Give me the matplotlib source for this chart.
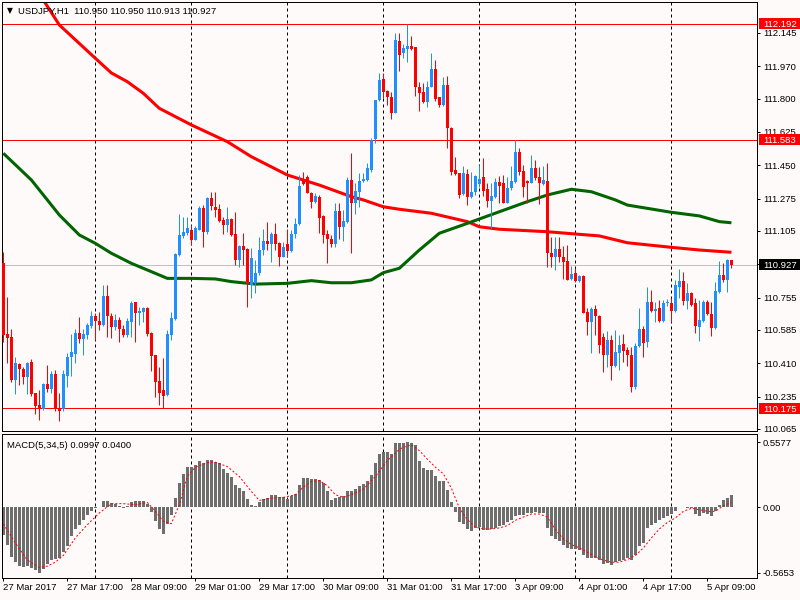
import matplotlib
matplotlib.use("Agg")
import matplotlib.pyplot as plt
import numpy as np
from matplotlib.patches import Rectangle
from matplotlib.transforms import blended_transform_factory, Bbox, TransformedBbox

plt.rcParams['font.family'] = ['Liberation Sans', 'DejaVu Sans']

# ---------------- data ----------------
chart_title = "USDJPY,H1  110.950 110.950 110.913 110.927"
macd_title = "MACD(5,34,5) 0.0997 0.0400"

opens = [110.937, 110.564, 110.548, 110.322, 110.406, 110.380, 110.338, 110.417, 110.254, 110.191,
         110.170, 110.301, 110.275, 110.354, 110.175, 110.170, 110.343, 110.443, 110.459, 110.569,
         110.538, 110.559, 110.606, 110.658, 110.632, 110.611, 110.763, 110.658, 110.601, 110.637,
         110.590, 110.559, 110.627, 110.732, 110.674, 110.679, 110.700, 110.569, 110.454, 110.317,
         110.270, 110.243, 110.559, 110.643, 110.979, 111.079, 111.094, 111.110, 111.058, 111.110,
         111.226, 111.100, 111.278, 111.231, 111.220, 111.163, 111.136, 111.168, 111.089, 110.953,
         111.026, 111.010, 110.821, 110.832, 110.884, 111.005, 111.052, 111.037, 111.089, 111.042,
         110.968, 111.037, 111.000, 111.089, 111.142, 111.378, 111.388, 111.304, 111.257, 111.283,
         111.184, 111.089, 111.063, 111.037, 111.210, 111.126, 111.152, 111.373, 111.252, 111.310,
         111.367, 111.373, 111.425, 111.588, 111.793, 111.903, 111.840, 111.809, 111.725, 112.103,
         112.040, 112.061, 112.076, 112.071, 111.861, 111.835, 111.782, 111.861, 111.956, 111.809,
         111.767, 111.872, 111.646, 111.425, 111.409, 111.299, 111.404, 111.283, 111.310, 111.352,
         111.388, 111.325, 111.262, 111.283, 111.362, 111.357, 111.252, 111.331, 111.362, 111.520,
         111.420, 111.367, 111.357, 111.436, 111.388, 111.352, 111.367, 110.989, 110.968, 111.010,
         110.968, 110.947, 110.853, 110.884, 110.842, 110.868, 110.679, 110.627, 110.695, 110.658,
         110.548, 110.454, 110.532, 110.396, 110.464, 110.511, 110.480, 110.454, 110.285, 110.501,
         110.590, 110.522, 110.732, 110.685, 110.700, 110.632, 110.725, 110.727, 110.685, 110.811,
         110.842, 110.737, 110.779, 110.727, 110.601, 110.632, 110.732, 110.669, 110.595, 110.784,
         110.874, 110.847, 110.950]
highs = [110.995, 110.758, 110.590, 110.443, 110.412, 110.391, 110.417, 110.433, 110.254, 110.270,
         110.307, 110.401, 110.370, 110.375, 110.254, 110.375, 110.464, 110.564, 110.590, 110.653,
         110.590, 110.622, 110.685, 110.674, 110.679, 110.821, 110.821, 110.674, 110.669, 110.653,
         110.611, 110.648, 110.737, 110.732, 110.706, 110.706, 110.706, 110.574, 110.454, 110.391,
         110.438, 110.585, 110.679, 110.989, 111.194, 111.178, 111.178, 111.136, 111.131, 111.236,
         111.241, 111.283, 111.310, 111.310, 111.247, 111.178, 111.231, 111.173, 111.205, 111.031,
         111.094, 111.016, 111.016, 110.953, 111.073, 111.115, 111.152, 111.100, 111.147, 111.047,
         111.047, 111.115, 111.110, 111.173, 111.399, 111.415, 111.399, 111.310, 111.304, 111.294,
         111.189, 111.110, 111.084, 111.252, 111.252, 111.215, 111.388, 111.514, 111.357, 111.409,
         111.409, 111.462, 111.593, 111.793, 111.935, 111.935, 111.845, 111.835, 112.145, 112.145,
         112.087, 112.192, 112.129, 112.071, 111.887, 111.882, 111.893, 112.040, 112.003, 111.809,
         111.914, 111.919, 111.651, 111.493, 111.409, 111.446, 111.430, 111.415, 111.399, 111.451,
         111.488, 111.357, 111.357, 111.383, 111.394, 111.399, 111.388, 111.446, 111.583, 111.541,
         111.451, 111.373, 111.504, 111.478, 111.441, 111.446, 111.462, 111.073, 111.073, 111.073,
         111.026, 111.031, 110.921, 110.910, 110.874, 110.874, 110.700, 110.706, 110.716, 110.664,
         110.569, 110.580, 110.559, 110.585, 110.559, 110.564, 110.496, 110.496, 110.517, 110.700,
         110.606, 110.811, 110.795, 110.732, 110.742, 110.742, 110.748, 110.753, 110.847, 110.905,
         110.889, 110.832, 110.784, 110.753, 110.742, 110.742, 110.742, 110.732, 110.837, 110.947,
         110.937, 110.958, 110.950]
lows = [110.522, 110.412, 110.312, 110.249, 110.296, 110.301, 110.249, 110.238, 110.144, 110.112,
        110.165, 110.259, 110.254, 110.159, 110.107, 110.159, 110.285, 110.343, 110.412, 110.517,
        110.454, 110.538, 110.595, 110.532, 110.585, 110.606, 110.548, 110.543, 110.585, 110.522,
        110.548, 110.548, 110.548, 110.522, 110.611, 110.627, 110.553, 110.370, 110.233, 110.191,
        110.175, 110.238, 110.532, 110.637, 110.973, 111.068, 111.084, 111.031, 111.058, 111.110,
        111.021, 111.089, 111.215, 111.178, 111.152, 111.089, 111.100, 111.079, 110.926, 110.916,
        110.926, 110.706, 110.753, 110.779, 110.874, 110.979, 111.005, 110.942, 111.005, 110.921,
        110.968, 110.968, 110.995, 111.068, 111.136, 111.346, 111.304, 111.226, 111.252, 111.094,
        111.042, 110.937, 111.021, 111.021, 111.063, 111.052, 111.147, 110.989, 111.194, 111.231,
        111.362, 111.367, 111.415, 111.567, 111.788, 111.803, 111.767, 111.693, 111.725, 111.945,
        112.013, 111.992, 112.055, 111.814, 111.735, 111.777, 111.756, 111.861, 111.788, 111.756,
        111.761, 111.541, 111.399, 111.399, 111.278, 111.294, 111.241, 111.278, 111.294, 111.336,
        111.289, 111.231, 111.121, 111.278, 111.252, 111.252, 111.252, 111.320, 111.357, 111.399,
        111.283, 111.252, 111.357, 111.373, 111.247, 111.346, 110.916, 110.916, 110.900, 110.942,
        110.853, 110.847, 110.847, 110.837, 110.837, 110.674, 110.559, 110.464, 110.559, 110.464,
        110.364, 110.391, 110.322, 110.391, 110.375, 110.417, 110.396, 110.259, 110.275, 110.496,
        110.443, 110.496, 110.679, 110.627, 110.627, 110.627, 110.711, 110.627, 110.679, 110.753,
        110.716, 110.695, 110.711, 110.569, 110.527, 110.627, 110.664, 110.553, 110.590, 110.779,
        110.837, 110.784, 110.913]
closes = [110.559, 110.543, 110.322, 110.412, 110.380, 110.338, 110.412, 110.249, 110.186, 110.175,
          110.301, 110.275, 110.354, 110.170, 110.159, 110.354, 110.443, 110.469, 110.569, 110.538,
          110.564, 110.611, 110.658, 110.632, 110.611, 110.763, 110.658, 110.601, 110.637, 110.590,
          110.559, 110.632, 110.727, 110.674, 110.685, 110.700, 110.564, 110.448, 110.312, 110.254,
          110.238, 110.564, 110.648, 110.984, 111.084, 111.100, 111.121, 111.058, 111.121, 111.226,
          111.100, 111.278, 111.236, 111.215, 111.157, 111.136, 111.168, 111.084, 110.953, 111.026,
          111.005, 110.826, 110.963, 110.884, 111.005, 111.052, 111.037, 111.089, 111.037, 110.968,
          111.021, 111.000, 111.089, 111.142, 111.341, 111.352, 111.304, 111.257, 111.289, 111.173,
          111.084, 111.063, 111.037, 111.210, 111.126, 111.157, 111.373, 111.252, 111.315, 111.367,
          111.378, 111.436, 111.583, 111.793, 111.898, 111.835, 111.809, 111.725, 112.108, 112.029,
          112.066, 112.076, 112.061, 111.861, 111.830, 111.782, 111.861, 111.956, 111.798, 111.767,
          111.872, 111.646, 111.415, 111.404, 111.294, 111.409, 111.283, 111.310, 111.394, 111.378,
          111.315, 111.262, 111.289, 111.362, 111.341, 111.252, 111.331, 111.367, 111.520, 111.415,
          111.336, 111.357, 111.436, 111.383, 111.357, 111.373, 110.989, 110.968, 111.010, 110.968,
          110.942, 110.847, 110.879, 110.842, 110.868, 110.674, 110.627, 110.695, 110.658, 110.506,
          110.454, 110.532, 110.396, 110.469, 110.506, 110.475, 110.454, 110.285, 110.501, 110.590,
          110.517, 110.732, 110.685, 110.695, 110.632, 110.727, 110.728, 110.685, 110.821, 110.842,
          110.737, 110.779, 110.716, 110.606, 110.637, 110.732, 110.669, 110.595, 110.790, 110.874,
          110.847, 110.953, 110.927]

ma_red_bars = [0, 10, 14, 23, 27, 31, 35, 39, 47, 56, 62, 71, 79, 87, 90, 95, 99, 107, 116, 119,
               124, 136, 143, 149, 156, 167, 174, 182]
ma_red_vals = [112.465, 112.318, 112.187, 112.012, 111.935, 111.889, 111.828, 111.749, 111.662,
               111.574, 111.495, 111.399, 111.346, 111.285, 111.268, 111.232, 111.219, 111.198,
               111.154, 111.127, 111.114, 111.101, 111.089, 111.079, 111.043, 111.019, 111.005,
               110.993]
ma_green_bars = [0, 7, 11, 14, 19, 23, 27, 32, 36, 41, 47, 53, 57, 63, 71, 77, 82, 87, 92, 95, 99,
                 104, 109, 116, 124, 131, 136, 142, 147, 153, 156, 167, 174, 179, 182]
ma_green_vals = [111.513, 111.373, 111.268, 111.189, 111.084, 111.040, 110.988, 110.935, 110.900,
                 110.856, 110.856, 110.853, 110.839, 110.826, 110.830, 110.844, 110.833, 110.833,
                 110.848, 110.886, 110.909, 111.005, 111.093, 111.145, 111.206, 111.259, 111.294,
                 111.324, 111.311, 111.268, 111.241, 111.203, 111.184, 111.154, 111.148]

macd_hist = [-0.237, -0.323, -0.432, -0.475, -0.509, -0.515, -0.509, -0.523, -0.543, -0.5653,
             -0.532, -0.494, -0.452, -0.446, -0.437, -0.386, -0.332, -0.252, -0.186, -0.152,
             -0.109, -0.066, -0.031, -0.011, -0.003, 0.054, 0.054, 0.034, 0.029, 0.011,
             -0.011, 0.011, 0.040, 0.049, 0.054, 0.054, 0.029, -0.046, -0.123, -0.186,
             -0.229, -0.143, -0.071, 0.080, 0.206, 0.286, 0.343, 0.349, 0.363, 0.397,
             0.377, 0.406, 0.406, 0.389, 0.377, 0.326, 0.297, 0.263, 0.192, 0.163,
             0.134, 0.069, 0.020, 0.011, 0.040, 0.071, 0.077, 0.106, 0.106, 0.086,
             0.086, 0.071, 0.091, 0.114, 0.192, 0.249, 0.249, 0.240, 0.240, 0.229,
             0.206, 0.134, 0.057, 0.077, 0.083, 0.091, 0.140, 0.140, 0.157, 0.177,
             0.200, 0.226, 0.277, 0.377, 0.457, 0.477, 0.472, 0.457, 0.549, 0.549,
             0.555, 0.5577, 0.555, 0.535, 0.397, 0.334, 0.320, 0.320, 0.269, 0.226,
             0.226, 0.149, 0.040, -0.046, -0.132, -0.143, -0.189, -0.209, -0.180, -0.174,
             -0.200, -0.200, -0.189, -0.180, -0.166, -0.152, -0.132, -0.109, -0.074, -0.066,
             -0.066, -0.051, -0.051, -0.046, -0.051, -0.051, -0.180, -0.252, -0.274, -0.294,
             -0.323, -0.352, -0.357, -0.360, -0.372, -0.409, -0.437, -0.437, -0.437, -0.457,
             -0.494, -0.486, -0.503, -0.475, -0.466, -0.452, -0.437, -0.457, -0.409, -0.337,
             -0.309, -0.180, -0.152, -0.137, -0.109, -0.094, -0.074, -0.057, -0.031, -0.002,
             0.002, -0.006, -0.009, -0.057, -0.074, -0.051, -0.057, -0.080, -0.037, 0.020,
             0.057, 0.075, 0.0997]
signal_bars = [0, 3, 6, 9, 11, 13, 15, 18, 21, 24, 27, 30, 33, 36, 38, 40, 42, 44, 46, 48, 51, 53,
               56, 59, 62, 64, 67, 70, 73, 75, 77, 79, 81, 83, 85, 88, 90, 93, 96, 99, 100, 102,
               104, 106, 108, 110, 112, 114, 116, 118, 120, 122, 124, 126, 128, 130, 132, 134,
               136, 138, 140, 142, 144, 146, 148, 150, 152, 154, 156, 158, 160, 162, 164, 166,
               168, 170, 172, 174, 176, 178, 180, 182]
signal_vals = [-0.146, -0.309, -0.457, -0.520, -0.509, -0.475, -0.417, -0.266, -0.152, -0.051,
               0.029, 0.029, 0.020, 0.040, -0.037, -0.123, -0.143, 0.020, 0.263, 0.343, 0.383,
               0.386, 0.349, 0.263, 0.134, 0.057, 0.077, 0.083, 0.106, 0.172, 0.220, 0.229,
               0.183, 0.106, 0.083, 0.120, 0.154, 0.263, 0.400, 0.497, 0.515, 0.535, 0.486,
               0.412, 0.343, 0.286, 0.163, -0.009, -0.109, -0.172, -0.189, -0.189, -0.180,
               -0.160, -0.114, -0.086, -0.060, -0.060, -0.086, -0.194, -0.274, -0.323, -0.352,
               -0.389, -0.429, -0.457, -0.475, -0.475, -0.452, -0.417, -0.352, -0.266, -0.189,
               -0.132, -0.094, -0.037, -0.011, -0.023, -0.037, -0.037, 0.011, 0.040]

date_labels = ["27 Mar 2017", "27 Mar 17:00", "28 Mar 09:00", "29 Mar 01:00", "29 Mar 17:00",
               "30 Mar 09:00", "31 Mar 01:00", "31 Mar 17:00", "3 Apr 09:00", "4 Apr 01:00",
               "4 Apr 17:00", "5 Apr 09:00"]
date_label_bars = [0, 16, 32, 48, 64, 80, 96, 112, 128, 144, 160, 176]
day_sep_bars = [23, 47, 71, 95, 119, 143, 167]
level_lines = [112.192, 111.583, 110.175]
current_price = 110.927
price_ticks = [112.145, 111.970, 111.800, 111.625, 111.450, 111.275, 111.105, 110.930,
               110.755, 110.585, 110.410, 110.235, 110.065]
macd_ticks = [0.5577, 0.0, -0.5653]
macd_tick_labels = ["0.5577", "0.00", "-0.5653"]

# ---------------- style ----------------
BG = '#fffafa'
UP = '#1e90ff'
DOWN = '#ff0000'
FS = 6.8
PX = 0.72
W, H = 800.0, 600.0

fig = plt.figure(figsize=(8, 6), dpi=100, facecolor=BG)
ax = fig.add_axes([2 / W, 1 - 431 / H, 755 / W, 429 / H], facecolor=BG)
axm = fig.add_axes([2 / W, 1 - 578 / H, 755 / W, 144 / H], facecolor=BG)

o = np.array(opens); hi = np.array(highs); lo = np.array(lows); c = np.array(closes)
x = np.arange(len(o))
cols = np.where(c >= o, UP, DOWN)

for a in (ax, axm):
    a.set_xlim(-0.33, 188.4)
    for s in a.spines.values():
        s.set_linewidth(PX)
        s.set_color('black')
    for b in day_sep_bars:
        a.axvline(b, color='black', lw=PX, ls=(0, (3, 3)), zorder=0.5)

# main panel
ax.set_ylim(110.0544, 112.3075)
ax.axhline(current_price, color='#c0c0c0', lw=PX, zorder=1)
for v in level_lines:
    ax.axhline(v, color='red', lw=PX, zorder=1.2)
ax.plot(ma_red_bars, ma_red_vals, color='#ff0000', lw=2.2, solid_joinstyle='round',
        solid_capstyle='butt', zorder=2)
ax.plot(ma_green_bars, ma_green_vals, color='#006400', lw=2.2, solid_joinstyle='round',
        solid_capstyle='butt', zorder=2)
ax.vlines(x, lo, hi, colors=cols, lw=PX, zorder=3)
ax.bar(x, np.maximum(np.abs(c - o), 0.006), width=0.75, bottom=np.minimum(o, c),
       color=cols, lw=0, zorder=3.1)

ax.yaxis.tick_right()
ax.set_yticks(price_ticks)
ax.tick_params(axis='y', direction='out', length=2.2, width=PX, labelright=False,
               labelleft=False, right=True, left=False)
ax.tick_params(axis='x', bottom=False, labelbottom=False)

tr = blended_transform_factory(ax.transAxes, ax.transData)
xlab = 1 + 6 / 755
hh = 5.5 * (112.3075 - 110.0544) / 429
for v in price_ticks:
    t = ax.text(xlab, v, f"{v:.3f}", transform=tr, fontsize=FS, va='center_baseline',
                ha='left', clip_on=False, zorder=4)
    if v == price_ticks[-1]:
        t.set_clip_path(None)
        t.set_clip_box(TransformedBbox(Bbox([[0, 1 - 432 / H], [1, 1]]), fig.transFigure))
        t.set_clip_on(True)
for v, fc in [(lv, 'red') for lv in level_lines] + [(current_price, 'black')]:
    ax.add_patch(Rectangle((1 + 2 / 755, v - hh), 43 / 755, 2 * hh, transform=tr, fc=fc,
                           ec='none', clip_on=False, zorder=5))
    ax.text(xlab, v, f"{v:.3f}", transform=tr, fontsize=FS, color='white',
            va='center_baseline', ha='left', clip_on=False, zorder=6)

# MACD panel
axm.set_ylim(-0.611, 0.629)
axm.bar(x, macd_hist, width=0.75, color='#6e6e6e', lw=0, zorder=2)
axm.plot(signal_bars, signal_vals, color='red', lw=PX, ls=(0, (2, 2)), zorder=3)
axm.yaxis.tick_right()
axm.set_yticks(macd_ticks)
axm.tick_params(axis='y', direction='out', length=2.2, width=PX, labelright=False,
                labelleft=False, right=True, left=False)
trm = blended_transform_factory(axm.transAxes, axm.transData)
for v, s in zip(macd_ticks, macd_tick_labels):
    axm.text(xlab, v, s, transform=trm, fontsize=FS, va='center_baseline', ha='left',
             clip_on=False)
axm.set_xticks(date_label_bars)
axm.set_xticklabels(date_labels, ha='left', fontsize=FS)
axm.tick_params(axis='x', direction='out', length=2.2, width=PX, pad=1.5)

# titles
fig.text(6.5 / W, 1 - 10.7 / H, "\u25bc", fontsize=5.5, va='center', ha='left',
         family='DejaVu Sans')
fig.text(18 / W, 1 - 10.7 / H, chart_title, fontsize=FS, va='center_baseline', ha='left')
fig.text(7.3 / W, 1 - 444 / H, macd_title, fontsize=FS, va='center_baseline', ha='left')

fig.savefig("out.png", dpi=100, facecolor=BG)
